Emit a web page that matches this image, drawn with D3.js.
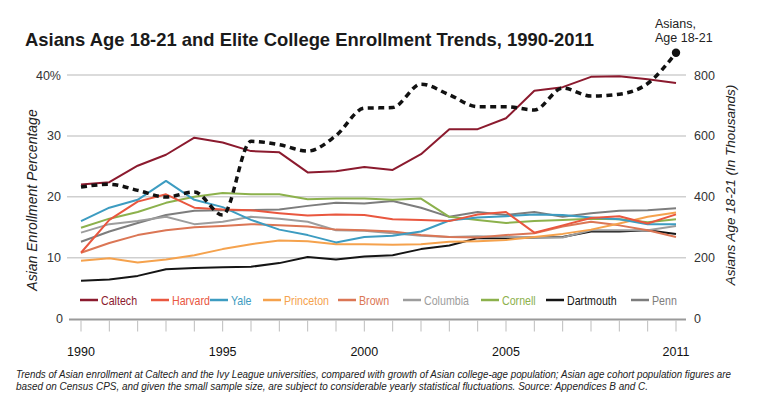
<!DOCTYPE html>
<html>
<head>
<meta charset="utf-8">
<script src="https://cdn.jsdelivr.net/npm/d3@7"></script>
<style>
  body { margin: 0; background: #fff; }
  svg { display: block; font-family: "Liberation Sans", Arial, Helvetica, sans-serif; }
  .grid line { stroke: #cfcfcf; stroke-width: 1.5; }
  .tick-label { font-size: 12.5px; fill: #333; }
  .line { fill: none; stroke-width: 2; stroke-linejoin: round; }
  .asians { fill: none; stroke: #111; stroke-width: 3.5; stroke-dasharray: 6,4.5; }
  .legend text { font-size: 13px; }
</style>
</head>
<body>
<div id="graph"></div>
<script>
// categories
var years = [1990, 1991, 1992, 1993, 1994, 1995, 1996, 1997, 1998, 1999, 2000,
             2001, 2002, 2003, 2004, 2005, 2006, 2007, 2008, 2009, 2010, 2011];
var yearLabels = [1990, 1995, 2000, 2005, 2011];
var pctTicks = [0, 10, 20, 30, 40];
var popTicks = [0, 200, 400, 600, 800];

// Asian enrollment percentage by school
var caltech    = [22.0, 22.4, 25.1, 26.9, 29.7, 28.9, 27.5, 27.3, 24.0, 24.2, 24.9, 24.4, 27.0, 31.1, 31.1, 32.9, 37.4, 38.0, 39.7, 39.8, 39.3, 38.7];
var harvard    = [10.8, 16.2, 19.2, 20.4, 18.2, 17.9, 17.8, 17.3, 16.9, 17.1, 17.0, 16.3, 16.2, 16.0, 17.1, 17.5, 14.1, 15.3, 16.5, 16.8, 15.6, 17.1];
var yale       = [16.0, 18.2, 19.5, 22.6, 19.5, 18.3, 16.2, 14.6, 13.7, 12.5, 13.4, 13.6, 14.3, 16.1, 16.6, 16.8, 17.1, 17.0, 16.6, 16.3, 15.5, 15.5];
var princeton  = [9.5, 9.9, 9.2, 9.7, 10.4, 11.4, 12.2, 12.8, 12.7, 12.2, 12.2, 12.1, 12.2, 12.6, 12.7, 12.9, 13.4, 13.9, 14.6, 15.6, 16.7, 17.4];
var brown      = [10.8, 12.4, 13.7, 14.5, 15.0, 15.2, 15.5, 15.3, 15.1, 14.6, 14.5, 14.3, 13.7, 13.4, 13.3, 13.7, 14.0, 15.1, 15.9, 15.3, 14.5, 13.4];
var columbia   = [14.1, 15.5, 16.0, 16.7, 15.5, 15.9, 16.7, 16.4, 15.9, 14.5, 14.4, 14.0, 13.6, 13.4, 13.5, 13.4, 13.3, 13.3, 14.5, 14.5, 14.5, 15.2];
var cornell    = [14.9, 16.4, 17.5, 19.0, 20.0, 20.6, 20.4, 20.4, 19.6, 19.7, 19.7, 19.5, 19.7, 16.7, 16.2, 15.7, 16.0, 16.2, 16.4, 16.3, 15.8, 16.3];
var dartmouth  = [6.2, 6.4, 7.0, 8.1, 8.3, 8.4, 8.5, 9.1, 10.1, 9.7, 10.2, 10.4, 11.4, 12.0, 13.2, 13.2, 13.3, 13.4, 14.3, 14.3, 14.5, 13.9];
var penn       = [12.6, 14.3, 15.7, 17.0, 17.7, 17.8, 17.8, 17.9, 18.5, 19.0, 18.9, 19.3, 18.2, 16.7, 17.5, 17.0, 17.5, 16.7, 17.3, 17.7, 17.8, 18.1];

// Asians age 18-21, thousands
var asians     = [432, 441, 421, 399, 416, 340, 582, 571, 550, 601, 691, 693, 770, 735, 696, 696, 685, 757, 731, 737, 772, 873];

var schools = [
    { name: "Caltech",    values: caltech,   color: "#8b1a2e" },
    { name: "Harvard",    values: harvard,   color: "#e9573f" },
    { name: "Yale",       values: yale,      color: "#3d9cc1" },
    { name: "Princeton",  values: princeton, color: "#f5a24d" },
    { name: "Brown",      values: brown,     color: "#db7655" },
    { name: "Columbia",   values: columbia,  color: "#9d9d9d" },
    { name: "Cornell",    values: cornell,   color: "#8cb14c" },
    { name: "Dartmouth",  values: dartmouth, color: "#151515" },
    { name: "Penn",       values: penn,      color: "#7d7d7d" }
];

var W = 768, H = 397;

var svg = d3.select("#graph")
    .append("svg")
    .attr("width", W)
    .attr("height", H);

var x = d3.scaleLinear().domain([1990, 2011]).range([81, 676]);
var y = d3.scaleLinear().domain([0, 40]).range([318.5, 75]);
var yR = d3.scaleLinear().domain([0, 800]).range([318.5, 75]);

// title
svg.append("text")
    .attr("x", 25).attr("y", 46)
    .attr("textLength", 569).attr("lengthAdjust", "spacingAndGlyphs")
    .style("font-size", "18.5px").style("font-weight", "bold").style("fill", "#1a1a1a")
    .text("Asians Age 18-21 and Elite College Enrollment Trends, 1990-2011");

// horizontal grid (skip 0, the axis line)
svg.append("g")
    .attr("class", "grid")
    .selectAll("line")
    .data(pctTicks.filter(function (d) { return d > 0; }))
    .join("line")
    .attr("x1", 67).attr("x2", 686)
    .attr("y1", function (d) { return y(d); })
    .attr("y2", function (d) { return y(d); });

// left tick labels
svg.append("g")
    .selectAll("text")
    .data(pctTicks)
    .join("text")
    .attr("class", "tick-label")
    .attr("x", function (d) { return d === 0 ? 63 : 61; })
    .attr("y", function (d) { return y(d) + 4.5; })
    .attr("text-anchor", "end")
    .text(function (d) { return d === 40 ? "40%" : d; });

// right tick labels
svg.append("g")
    .selectAll("text")
    .data(popTicks)
    .join("text")
    .attr("class", "tick-label")
    .attr("x", 694)
    .attr("y", function (d) { return yR(d) + 4.5; })
    .text(function (d) { return d; });

// axis titles
svg.append("text")
    .attr("transform", "translate(37,200) rotate(-90)")
    .attr("text-anchor", "middle")
    .style("font-size", "14px").style("font-style", "italic").style("fill", "#222")
    .text("Asian Enrollment Percentage");

svg.append("text")
    .attr("transform", "translate(735,185) rotate(-90)")
    .attr("text-anchor", "middle")
    .style("font-size", "13.5px").style("font-style", "italic").style("fill", "#222")
    .text("Asians Age 18-21 (In Thousands)");

// bottom axis: line, year ticks, labels
svg.append("line")
    .attr("x1", 69).attr("x2", 686)
    .attr("y1", y(0) + 1).attr("y2", y(0) + 1)
    .style("stroke", "#9a9a9a").style("stroke-width", 2);

svg.append("g")
    .selectAll("line")
    .data(years)
    .join("line")
    .attr("x1", function (d) { return x(d); })
    .attr("x2", function (d) { return x(d); })
    .attr("y1", y(0) + 2).attr("y2", y(0) + 13)
    .style("stroke", "#bdbdbd").style("stroke-width", 1);

svg.append("g")
    .selectAll("text")
    .data(yearLabels)
    .join("text")
    .attr("class", "tick-label")
    .attr("x", function (d) { return x(d); })
    .attr("y", 356)
    .attr("text-anchor", "middle")
    .style("fill", "#111")
    .text(function (d) { return d; });

// school lines (Caltech drawn last so it sits on top)
var line = d3.line()
    .x(function (d, i) { return x(years[i]); })
    .y(function (d) { return y(d); });

svg.append("g")
    .selectAll("path")
    .data(schools.slice().reverse())
    .join("path")
    .attr("class", "line")
    .attr("d", function (d) { return line(d.values); })
    .style("stroke", function (d) { return d.color; });

// Asian population dashed line
var popLine = d3.line()
    .x(function (d, i) { return x(years[i]); })
    .y(function (d) { return yR(d); })
    .curve(d3.curveMonotoneX);

svg.append("path")
    .attr("class", "asians")
    .attr("d", popLine(asians));

svg.append("circle")
    .attr("cx", x(years[years.length - 1]))
    .attr("cy", yR(asians[asians.length - 1]))
    .attr("r", 4.2)
    .style("fill", "#111");

svg.append("text")
    .attr("x", 655).attr("y", 27.5)
    .style("font-size", "12.5px").style("fill", "#222")
    .text("Asians,");
svg.append("text")
    .attr("x", 655).attr("y", 41.5)
    .style("font-size", "12.5px").style("fill", "#222")
    .text("Age 18-21");

// legend
var legendX = [80, 151, 210, 263, 338, 403, 481, 546, 631];
var legend = svg.append("g")
    .attr("class", "legend")
    .selectAll("g")
    .data(schools)
    .join("g")
    .attr("transform", function (d, i) { return "translate(" + legendX[i] + ",300)"; });

legend.append("line")
    .attr("x1", 0).attr("x2", 18)
    .style("stroke", function (d) { return d.color; })
    .style("stroke-width", 2.5);

// the source lettering is narrow, so squeeze the legend text horizontally
legend.append("text")
    .attr("transform", "translate(21,4.5) scale(0.82,1)")
    .style("fill", function (d) { return d.color; })
    .text(function (d) { return d.name; });

// caption
var caption = [
    "Trends of Asian enrollment at Caltech and the Ivy League universities, compared with growth of Asian college-age population; Asian age cohort population figures are",
    "based on Census CPS, and given the small sample size, are subject to considerable yearly statistical fluctuations. Source: Appendices B and C."
];
var captionLen = [715, 632];

svg.append("g")
    .selectAll("text")
    .data(caption)
    .join("text")
    .attr("x", 16)
    .attr("y", function (d, i) { return 378 + i * 11.5; })
    .attr("textLength", function (d, i) { return captionLen[i]; })
    .attr("lengthAdjust", "spacingAndGlyphs")
    .style("font-size", "10px").style("font-style", "italic").style("fill", "#222")
    .text(function (d) { return d; });
</script>
</body>
</html>
